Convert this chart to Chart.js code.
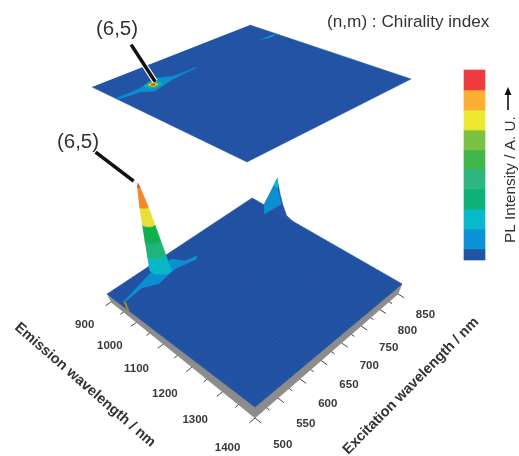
<!DOCTYPE html>
<html>
<head>
<meta charset="utf-8">
<title>PL map</title>
<script src="https://cdn.jsdelivr.net/npm/chart.js@4"></script>
<style>
    html, body { margin: 0; padding: 0; background: #fff; }
    canvas { display: block; }
</style>
</head>
<body>
<canvas id="chart" width="519" height="456"></canvas>
<script>
// axis ticks
const emissionTicks = [900, 1000, 1100, 1200, 1300, 1400];
const emissionMinor = [950, 1050, 1150, 1250, 1350];
const excitationTicks = [500, 550, 600, 650, 700, 750, 800, 850];
const excitationMinor = [525, 575, 625, 675, 725, 775, 825];

// colour bar, bottom to top
const barEdges = [0, 0.58, 1.63, 2.68, 3.74, 4.79, 5.79, 6.84, 7.89, 8.95, 10];
const barColors = ['#2353a4', '#0a94d6', '#07b9c9', '#0eb278', '#2db67d', '#3fb649', '#7bc143', '#ece82f', '#fbb033', '#ef3b3f'];

// (6,5) peak on the surface: contour rings with their intensity
const peakEm = 980;
const peakEx = 580;
const ringLevels = [0.137, 0.284, 0.431, 0.588, 0.765, 0.961];
const ringEm = [
    [961, 979, 998, 999, 985, 966],
    [965, 979, 994, 995, 984, 969],
    [968, 979, 991, 992, 983, 972],
    [971, 980, 989, 989, 983, 974],
    [974, 980, 986, 986, 982, 976],
    [978, 980, 982, 982, 981, 979]
];
const ringEx = [
    [568, 569, 581, 592, 589, 576],
    [570, 571, 581, 590, 587, 577],
    [572, 573, 581, 588, 585, 578],
    [574, 575, 580, 586, 584, 578],
    [576, 576, 580, 584, 583, 579],
    [579, 579, 580, 581, 581, 580]
];
const ringColors = ['#08b8c8', '#20b47c', '#10b04f', '#e8e03a', '#f0892e', '#e8383c'];

// (6,5) peak on the contour map
const mapPeakEm = 995;
const mapPeakEx = 571;
const contourEm = [
    [985, 977, 985, 1006, 1013, 1005],
    [986, 980, 987, 1004, 1010, 1003],
    [988, 982, 988, 1002, 1008, 1002],
    [989, 985, 990, 1001, 1005, 1000],
    [991, 988, 991, 999, 1002, 999],
    [993, 991, 993, 997, 999, 997]
];
const contourEx = [
    [558, 573, 583, 584, 569, 559],
    [560, 573, 581, 582, 569, 561],
    [562, 573, 579, 580, 569, 563],
    [564, 572, 577, 578, 570, 565],
    [566, 572, 576, 576, 570, 566],
    [568, 571, 573, 574, 571, 569]
];

// low ridge through the (6,5) peak along excitation
const ridgeEm = 982;
const ridgeTopEx = [500, 531, 545, 560, 605, 630, 657];
const ridgeTopZ = [0.092, 0.137, 0.157, 0.183, 0.186, 0.095, 0.069];
const ridgeFootEx = [654, 608, 570, 537, 500];
const ridgeFootZ = [0.044, 0.083, 0.049, 0.106, 0.082];

// same ridge on the contour map
const streakEm = [990, 989, 988, 971, 994, 996, 996, 999, 1001, 1006, 1025, 1003, 1000, 996];
const streakEx = [500, 530, 548, 590, 612, 635, 660, 660, 635, 605, 557, 540, 520, 500];

// second peak on the far edge, excitation 850
const edgeEm = [945, 958, 970, 990, 1005, 1025, 1050];
const edgeZ = [0, 0.137, 0.294, 0.167, 0.093, 0.02, 0];
const lobeEm = [945, 958, 964, 977, 1000, 973];
const lobeEx = [850, 850, 850, 850, 850, 830];
const lobeZ = [0, 0.137, 0.215, 0.216, 0.093, 0];
const capEm = [964, 970, 977];
const capZ = [0.215, 0.294, 0.216];
const farStreakEm = [989, 997, 997, 992];
const farStreakEx = [812, 830, 850, 850];
const farCapEm = [992, 995, 995, 992];
const farCapEx = [822, 830, 842, 842];

const EM_MIN = 900, EM_MAX = 1400, EX_MIN = 500, EX_MAX = 850;
const PEAK_PX = 102;
const floorColor = '#2353a4';
const ridgeColor = '#0a8fd2';

// corners: (em min, ex min), (em max, ex min), (em max, ex max), (em min, ex max)
const lowerPlane = makePlane([[107, 294], [255, 407], [402, 284], [252, 198]]);
const basePlane = makePlane([[111, 302], [255, 418], [398, 294], [252, 207]]);
const upperPlane = makePlane([[92, 87], [247, 162], [411, 79], [250, 25]]);

function makePlane(q) {
    const [[x0, y0], [x1, y1], [x2, y2], [x3, y3]] = q;
    const dx1 = x1 - x2, dx2 = x3 - x2, dx3 = x0 - x1 + x2 - x3;
    const dy1 = y1 - y2, dy2 = y3 - y2, dy3 = y0 - y1 + y2 - y3;
    const den = dx1 * dy2 - dx2 * dy1;
    const g = (dx3 * dy2 - dx2 * dy3) / den;
    const h = (dx1 * dy3 - dx3 * dy1) / den;
    return {
        a: x1 - x0 + g * x1, b: x3 - x0 + h * x3, c: x0,
        d: y1 - y0 + g * y1, e: y3 - y0 + h * y3, f: y0, g, h
    };
}

// emission, excitation, intensity -> canvas position (verticals splay out with perspective)
function project(p, em, ex, z = 0) {
    const u = (em - EM_MIN) / (EM_MAX - EM_MIN);
    const v = (ex - EX_MIN) / (EX_MAX - EX_MIN);
    const w = p.g * u + p.h * v + 1;
    const x = (p.a * u + p.b * v + p.c) / w;
    const y = (p.d * u + p.e * v + p.f) / w;
    const lean = (x - 223) / 225;
    return { x: x + lean * z * PEAK_PX, y: y - z * PEAK_PX };
}

function hull(points) {
    const pts = points.slice().sort((a, b) => a.x - b.x || a.y - b.y);
    const cross = (o, a, b) => (a.x - o.x) * (b.y - o.y) - (a.y - o.y) * (b.x - o.x);
    const lower = [], upper = [];
    pts.forEach(p => {
        while (lower.length > 1 && cross(lower[lower.length - 2], lower[lower.length - 1], p) <= 0) lower.pop();
        lower.push(p);
    });
    pts.slice().reverse().forEach(p => {
        while (upper.length > 1 && cross(upper[upper.length - 2], upper[upper.length - 1], p) <= 0) upper.pop();
        upper.push(p);
    });
    return lower.slice(0, -1).concat(upper.slice(0, -1));
}

function polygon(data, color) {
    return { type: 'scatter', data, showLine: true, fill: 'shape', tension: 0, pointRadius: 0,
        borderWidth: 0.5, borderColor: color, backgroundColor: color, xAxisID: 'x', yAxisID: 'y' };
}

function stroke(data, color, width) {
    return { type: 'scatter', data, showLine: true, fill: false, tension: 0, pointRadius: 0,
        borderWidth: width, borderColor: color, backgroundColor: color, borderCapStyle: 'butt',
        xAxisID: 'x', yAxisID: 'y' };
}

const layers = [];

// upper contour map
layers.push(polygon([
    project(upperPlane, EM_MIN, EX_MIN), project(upperPlane, EM_MAX, EX_MIN),
    project(upperPlane, EM_MAX, EX_MAX), project(upperPlane, EM_MIN, EX_MAX)
], floorColor));
layers.push(polygon(streakEm.map((em, i) => project(upperPlane, em, streakEx[i])), ridgeColor));
contourEm.forEach((ring, i) => {
    layers.push(polygon(ring.map((em, j) => project(upperPlane, em, contourEx[i][j])), ringColors[i]));
});
layers.push(polygon(farStreakEm.map((em, i) => project(upperPlane, em, farStreakEx[i])), ridgeColor));
layers.push(polygon(farCapEm.map((em, i) => project(upperPlane, em, farCapEx[i])), '#07b9c9'));

// lower surface: wall, floor, mesh
layers.push(polygon([
    project(lowerPlane, EM_MIN, EX_MIN), project(lowerPlane, EM_MAX, EX_MIN), project(lowerPlane, EM_MAX, EX_MAX),
    project(basePlane, EM_MAX, EX_MAX), project(basePlane, EM_MAX, EX_MIN), project(basePlane, EM_MIN, EX_MIN)
], '#8c8c8c'));
layers.push(polygon(edgeEm.map((em, i) => project(lowerPlane, em, EX_MAX, edgeZ[i])), floorColor));
layers.push(polygon([
    project(lowerPlane, EM_MIN, EX_MIN), project(lowerPlane, EM_MAX, EX_MIN),
    project(lowerPlane, EM_MAX, EX_MAX), project(lowerPlane, EM_MIN, EX_MAX)
], floorColor));
for (let em = EM_MIN; em <= EM_MAX; em += 10) {
    layers.push(stroke([project(lowerPlane, em, EX_MIN), project(lowerPlane, em, EX_MAX)], '#1f4b9b', 0.4));
}
for (let ex = EX_MIN; ex <= EX_MAX; ex += 7) {
    layers.push(stroke([project(lowerPlane, EM_MIN, ex), project(lowerPlane, EM_MAX, ex)], '#1f4b9b', 0.4));
}

// ticks under the wall
emissionTicks.concat(emissionMinor).forEach(em => {
    const len = emissionTicks.includes(em) ? 12 : 7;
    layers.push(stroke([project(basePlane, em, EX_MIN), project(basePlane, em, EX_MIN - len)], '#333333', 0.9));
});
excitationTicks.concat(excitationMinor).forEach(ex => {
    const len = excitationTicks.includes(ex) ? 18 : 9;
    layers.push(stroke([project(basePlane, EM_MAX, ex), project(basePlane, EM_MAX + len, ex)], '#333333', 0.9));
});

// far peak
layers.push(polygon(lobeEm.map((em, i) => project(lowerPlane, em, lobeEx[i], lobeZ[i])), ridgeColor));
layers.push(polygon(capEm.map((em, i) => project(lowerPlane, em, EX_MAX, capZ[i])), '#10b8d0'));

// ridge and wall cut
layers.push(polygon([
    project(lowerPlane, 975, EX_MIN, 0.08), project(lowerPlane, 985, EX_MIN, 0.08),
    project(lowerPlane, 985, EX_MIN, 0), project(lowerPlane, 975, EX_MIN, 0)
], '#a98f1e'));
layers.push(polygon(
    ridgeTopEx.map((ex, i) => project(lowerPlane, ridgeEm, ex, ridgeTopZ[i]))
        .concat(ridgeFootEx.map((ex, i) => project(lowerPlane, ridgeEm, ex, ridgeFootZ[i]))),
    ridgeColor));

// (6,5) peak, band by band from the bottom
ringEm.forEach((ring, i) => {
    const low = ring.map((em, j) => project(lowerPlane, em, ringEx[i][j], ringLevels[i]));
    const high = i + 1 < ringEm.length
        ? ringEm[i + 1].map((em, j) => project(lowerPlane, em, ringEx[i + 1][j], ringLevels[i + 1]))
        : [project(lowerPlane, peakEm, peakEx, 1)];
    layers.push(polygon(hull(low.concat(high)), ringColors[i]));
});

// leader lines from each (6,5) peak to its label
const upperTip = project(upperPlane, mapPeakEm, mapPeakEx);
const lowerTip = project(lowerPlane, peakEm, peakEx, 1);
const upperLeader = [{ x: upperTip.x + 2, y: upperTip.y - 3 }, { x: upperTip.x - 22, y: upperTip.y - 40 }];
const lowerLeader = [{ x: lowerTip.x - 4, y: lowerTip.y - 2 }, { x: lowerTip.x - 42, y: lowerTip.y - 31 }];
layers.push(stroke(upperLeader, '#ffffff', 5.6));
layers.push(stroke(upperLeader, '#111111', 3.6));
layers.push(stroke(lowerLeader, '#111111', 3.6));

// chart.js paints the first dataset last
const datasets = layers.reverse();

const colorBar = {
    type: 'bar',
    data: barColors.map((c, i) => ({ x: 474.5, y: [barEdges[i], barEdges[i + 1]] })),
    backgroundColor: barColors,
    barThickness: 21,
    borderWidth: 0,
    xAxisID: 'x',
    yAxisID: 'yBar'
};

const labelsPlugin = {
    id: 'labels',
    afterDraw(chart) {
        const ctx = chart.ctx;
        const text = (str, x, y, font, color, rot = 0, align = 'center', base = 'middle') => {
            ctx.save();
            ctx.translate(x, y);
            ctx.rotate(rot);
            ctx.font = font;
            ctx.fillStyle = color;
            ctx.textAlign = align;
            ctx.textBaseline = base;
            ctx.fillText(str, 0, 0);
            ctx.restore();
        };
        const tickFont = 'bold 11.5px "Liberation Sans"';
        emissionTicks.forEach(em => {
            const p = project(basePlane, em, EX_MIN - 63);
            text(String(em), p.x + 3, p.y + 3, tickFont, '#3a3a3a');
        });
        excitationTicks.forEach(ex => {
            const p = project(basePlane, EM_MAX + 90, ex);
            text(String(ex), p.x - 3.5, p.y + 2, tickFont, '#3a3a3a');
        });
        text('Emission wavelength / nm', 85, 385, 'bold 14.5px "Liberation Sans"', '#333333', 0.715);
        text('Excitation wavelength / nm', 411, 386, 'bold 14.5px "Liberation Sans"', '#333333', -0.79);
        text('(6,5)', 117, 35, '20.5px "Liberation Sans"', '#333333', 0, 'center', 'alphabetic');
        text('(6,5)', 78, 148, '20.5px "Liberation Sans"', '#333333', 0, 'center', 'alphabetic');
        text('(n,m) : Chirality index', 327, 27, '17.2px "Liberation Sans"', '#333333', 0, 'left', 'alphabetic');
        text('PL Intensity / A. U.', 515, 243, '15.3px "Liberation Sans"', '#333333', -Math.PI / 2, 'left', 'alphabetic');

        // arrow next to the intensity label
        ctx.save();
        ctx.strokeStyle = '#111111';
        ctx.fillStyle = '#111111';
        ctx.lineWidth = 1.6;
        ctx.beginPath();
        ctx.moveTo(508, 110);
        ctx.lineTo(508, 92);
        ctx.stroke();
        ctx.beginPath();
        ctx.moveTo(508, 87);
        ctx.lineTo(504.5, 95);
        ctx.lineTo(511.5, 95);
        ctx.closePath();
        ctx.fill();
        ctx.restore();
    }
};

new Chart(document.getElementById('chart'), {
    data: { datasets: datasets.concat([colorBar]) },
    plugins: [labelsPlugin],
    options: {
        responsive: false,
        animation: false,
        layout: { padding: 0 },
        plugins: { legend: { display: false }, tooltip: { enabled: false } },
        scales: {
            x: { type: 'linear', display: false, min: 0, max: 519, offset: false },
            y: { type: 'linear', display: false, min: 0, max: 456, reverse: true },
            yBar: { type: 'linear', display: false, min: -10.316, max: 13.684 }
        }
    }
});
</script>
</body>
</html>
